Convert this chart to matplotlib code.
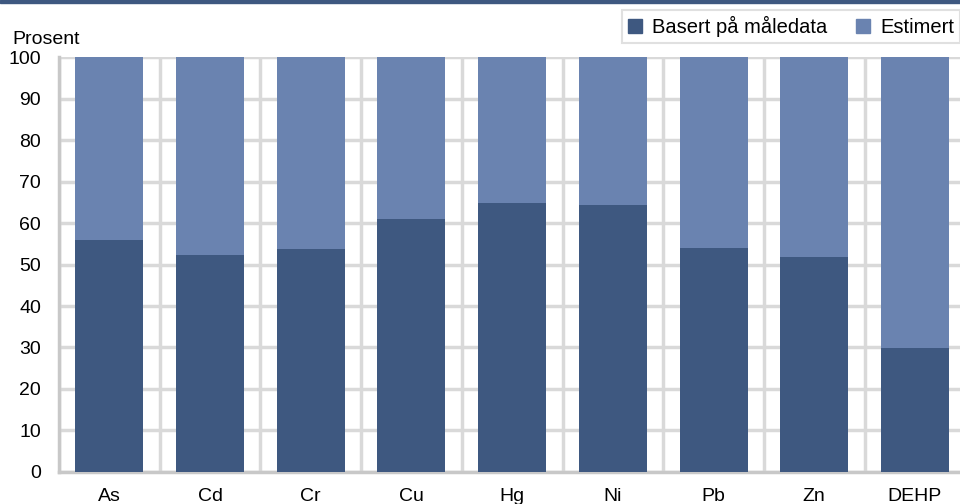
import numpy as np
import matplotlib.pyplot as plt
from matplotlib.patches import Patch, Rectangle

plt.rcParams['font.family'] = ['Liberation Sans', 'DejaVu Sans']

stoffer = ["As", "Cd", "Cr", "Cu", "Hg", "Ni", "Pb", "Zn", "DEHP"]
maaledata = [55.9, 52.3, 53.7, 60.9, 64.9, 64.4, 54.1, 51.9, 29.9]
estimert = [100 - v for v in maaledata]

mork = "#3e5880"
lys = "#6a83b0"
grid = "#d9d9d9"

fig = plt.figure(figsize=(9.6, 5.04), dpi=100)
ax = fig.add_axes([0.0615, 0.064, 0.944, 0.822])

x = np.arange(len(stoffer))
ax.bar(x, maaledata, width=0.675, color=mork, zorder=3)
ax.bar(x, estimert, width=0.675, bottom=maaledata, color=lys, zorder=3)

ax.set_xlim(-0.5, len(stoffer) - 0.5)
ax.set_ylim(0, 100)
ax.set_yticks(np.arange(0, 101, 10))
ax.set_xticks(x)
ax.set_xticklabels(stoffer)
ax.set_xticks(np.arange(-0.5, len(stoffer), 1), minor=True)
ax.grid(axis='y', which='major', color=grid, linewidth=2.5, zorder=0)
ax.grid(axis='x', which='minor', color=grid, linewidth=2.5, zorder=0)
ax.tick_params(axis='x', which='both', length=0, labelsize=14, pad=12)
ax.tick_params(axis='y', length=0, labelsize=14, pad=13)

for side in ['top', 'right']:
    ax.spines[side].set_visible(False)
for side in ['left', 'bottom']:
    ax.spines[side].set_color("#c8c8c8")
    ax.spines[side].set_linewidth(2.5)

fig.text(12 / 960, 0.913, "Prosent", fontsize=14, ha='left', va='baseline')

handles = [Patch(color=mork, label="Basert på måledata"),
           Patch(color=lys, label="Estimert")]
leg = fig.legend(handles=handles, loc='upper left', bbox_to_anchor=(0.648, 0.981),
                 ncol=2, fontsize=14.5, frameon=True, fancybox=False,
                 handlelength=0.7, handleheight=0.7, handletextpad=0.5,
                 columnspacing=1.4, borderpad=0.3, borderaxespad=0)
leg.get_frame().set_edgecolor("#d9d9d9")
leg.get_frame().set_linewidth(1.5)

# mørk stripe øverst
fig.add_artist(Rectangle((0, 0.994), 1, 0.006, transform=fig.transFigure,
                         color=mork, zorder=5))

fig.savefig("out.png", dpi=100)
